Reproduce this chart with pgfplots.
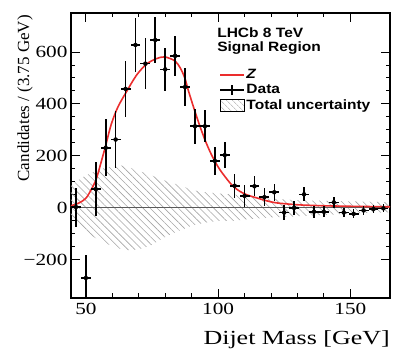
\documentclass[border=0pt]{standalone}
\usepackage{fontspec}
\usepackage{pgfplots}
\pgfplotsset{compat=1.18}
\usetikzlibrary{patterns.meta}
\setmainfont{Liberation Serif}
\newfontfamily\tickfont[FakeStretch=1.25]{Liberation Serif}
\newfontfamily\labfont[FakeStretch=1.3]{Liberation Serif}
\newfontfamily\hel[FakeStretch=1.15]{Liberation Sans}

\definecolor{zred}{RGB}{235,45,45}
\definecolor{hatch}{RGB}{165,165,165}
\definecolor{zeroline}{RGB}{90,90,90}

\begin{document}
\begin{tikzpicture}
\begin{axis}[
  at={(0,0)}, anchor=south west,
  width=319pt, height=285pt,
  scale only axis,
  xmin=44.375, xmax=165,
  ymin=-347, ymax=750,
  xtick={50,100,150}, xticklabels={50,100,150},
  minor x tick num=4,
  ytick={-200,0,200,400,600}, yticklabels={−200,0,200,400,600},
  minor y tick num=3,
  tick pos=both, tick align=inside,
  major tick length=9pt, minor tick length=4.5pt,
  every tick/.style={black, line width=0.9pt},
  axis line style={line width=1.3pt},
  tick label style={font=\tickfont\fontsize{17}{20}\selectfont},
  xticklabel style={yshift=-2pt},
  xlabel={Dijet Mass [GeV]},
  xlabel style={font=\labfont\fontsize{20}{24}\selectfont, at={(rel axis cs:1,0)}, anchor=north east, yshift=-32pt, inner sep=0pt},
  ylabel={Candidates / (3.75 GeV)},
  ylabel style={font=\fontsize{17}{20}\selectfont, at={(rel axis cs:0,1)}, anchor=south east, yshift=38pt, xshift=-2pt, inner sep=0pt},
  legend cell align={left},
  legend style={at={(rel axis cs:0.455,0.815)}, anchor=north west, draw=none, fill=none,
    font=\hel\bfseries\fontsize{13.5}{16}\selectfont, row sep=1.5pt,
    nodes={inner sep=1.5pt}},
]

% total uncertainty band
\addplot [draw=none, pattern={Lines[angle=-45, distance=5pt, line width=0.6pt]}, pattern color=hatch, forget plot]
coordinates {
(44.375,85) (45.2,94) (48,112) (50,125) (52.8,138) (56,150) (59.1,158) (62.9,164)
(66,157) (69.2,145) (72,135) (75,124) (78,113) (81,100) (85.6,87) (90,70)
(93.2,62) (100.8,55) (108.3,49) (115.9,38) (125,32) (135,28) (145,26) (155,24) (165,22)
(165,-17) (155,-20) (145,-25) (135,-30) (125,-35) (120,-37) (110,-45) (106,-50)
(100.8,-50) (95,-57) (90.6,-67) (84.3,-92) (81,-107) (78,-124) (75,-142) (71.7,-156)
(68,-162) (65.4,-163) (62,-155) (59.1,-143) (56,-130) (52.8,-111) (48,-80) (45.2,-54) (44.375,-50)
} -- cycle;

% zero line
\addplot [zeroline, line width=0.8pt, forget plot] coordinates {(44.375,0) (165,0)};

% Z signal shape
\addplot [zred, line width=1.6pt, smooth, forget plot]
coordinates {
(44.375,8) (46.25,14) (48,22) (50.1,38) (52,70) (53.9,110) (55.8,177) (57.7,248)
(59.6,322) (62.1,388) (65.3,446) (69.1,510) (72.9,553) (76.6,574) (79.8,581)
(83.6,566) (85.6,540) (87.4,500) (88.8,450) (91.3,369) (93.2,312) (95.1,260)
(97,215) (98.9,177) (100.8,145) (102.7,119) (104.5,96) (106.4,77) (108.3,63)
(110.9,50) (114.7,38) (118.4,27) (121.5,20) (125,16) (131.5,11) (140,8) (150,6) (165,4)
};

% data
\addplot [black, only marks, mark=none, forget plot,
  error bars/.cd, x dir=both, x explicit, y dir=both, y explicit,
  error mark=none, error bar style={line width=1.6pt, black}]
table [x=x, y=y, x error=ex, y error=ey] {
x y ex ey
46.25 3 1.875 75
50.00 -270 1.875 90
53.75 72 1.875 105
57.50 231 1.875 110
61.25 263 1.875 108
65.00 458 1.875 107
68.75 627 1.875 103
72.50 555 1.875 97
76.25 646 1.875 90
80.00 533 1.875 82
83.75 585 1.875 77
87.50 465 1.875 72
91.25 314 1.875 67
95.00 314 1.875 62
98.75 181 1.875 55
102.50 203 1.875 50
106.25 85 1.875 46
110.00 46 1.875 42
113.75 83 1.875 38
117.50 41 1.875 35
121.25 60 1.875 33
125.00 -18 1.875 30
128.75 0 1.875 28
132.50 52 1.875 27
136.25 -15 1.875 24
140.00 -15 1.875 22
143.75 21 1.875 21
147.50 -18 1.875 19
151.25 -23 1.875 18
155.00 -10 1.875 17
158.75 -5 1.875 16
162.50 -2 1.875 15
};

% legend entries
\addlegendimage{legend image code/.code={\draw[zred, line width=1.6pt] (0pt,0pt) -- (24pt,0pt);}}
\addlegendentry{\textit{Z}}
\addlegendimage{legend image code/.code={\draw[black, line width=1.6pt] (0pt,0pt) -- (24pt,0pt); \draw[black, line width=1.6pt] (12pt,-5pt) -- (12pt,5pt);}}
\addlegendentry{Data}
\addlegendimage{legend image code/.code={\draw[black, line width=0.6pt, pattern={Lines[angle=-45, distance=4pt, line width=0.6pt]}, pattern color=hatch] (0pt,-6pt) rectangle (24pt,6.5pt);}}
\addlegendentry{Total uncertainty}

\node [anchor=west, inner sep=0pt, font=\hel\bfseries\fontsize{13.5}{16}\selectfont] at (rel axis cs:0.458,0.93) {LHCb 8 TeV};
\node [anchor=west, inner sep=0pt, font=\hel\bfseries\fontsize{13.5}{16}\selectfont] at (rel axis cs:0.458,0.877) {Signal Region};

\end{axis}
\pgfresetboundingbox
\useasboundingbox (-71pt,-57pt) rectangle (336pt,298pt);
\end{tikzpicture}
\end{document}
